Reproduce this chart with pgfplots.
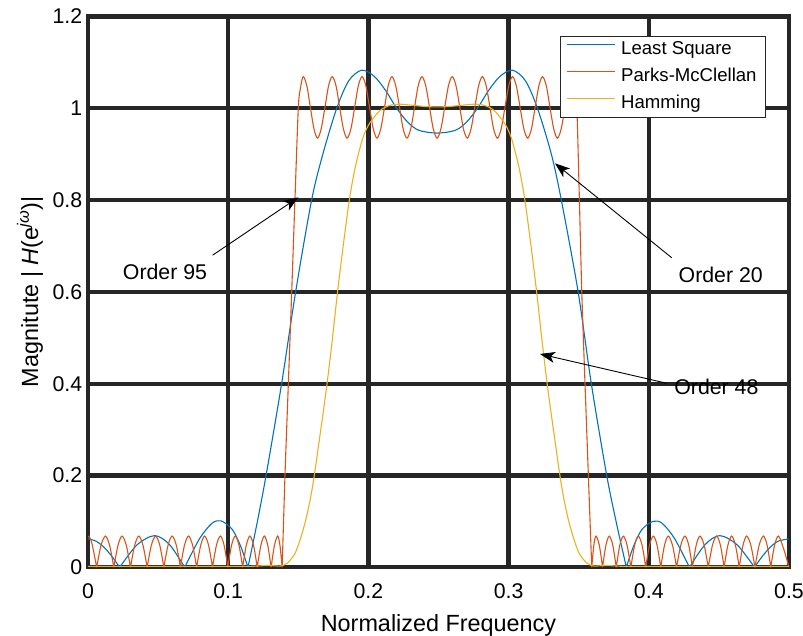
\documentclass[border=0pt]{standalone}
\usepackage{fontspec}
\setmainfont{Liberation Sans}
\usepackage{pgfplots}
\pgfplotsset{compat=1.18}
\usetikzlibrary{arrows.meta}
\definecolor{mblue}{RGB}{0,114,189}
\definecolor{morange}{RGB}{217,83,25}
\definecolor{myellow}{RGB}{237,177,32}
\definecolor{mgrid}{RGB}{38,38,38}
\begin{document}
\begin{tikzpicture}
\begin{axis}[
  name=ax, scale only axis, width=701pt, height=550.8pt,
  xmin=0, xmax=0.5, ymin=0, ymax=1.2,
  xtick={0,0.1,0.2,0.3,0.4,0.5},
  ytick={0,0.2,0.4,0.6,0.8,1,1.2},
  /pgf/number format/assume math mode=true,
  tick label style={font=\fontsize{21.3}{25}\selectfont},
  xticklabel style={anchor=base, yshift=-31.7pt},
  yticklabel style={xshift=-2.3pt},
  grid=major,
  major grid style={line width=4.3pt, draw=mgrid},
  axis line style={line width=4.3pt, draw=mgrid},
  tick style={draw=none},
  xlabel={Normalized Frequency},
  ylabel={Magnitute | \textit{H}(e\textsuperscript{\textit{jω}})|},
  label style={font=\fontsize{23.4}{28}\selectfont},
  xlabel style={at={(axis description cs:0.5,-0.1166)}, anchor=base},
  ylabel style={at={(axis description cs:-0.0713,0.5)}, anchor=base},
  unbounded coords=jump,
  legend style={at={(axis description cs:0.9672,0.9646)}, anchor=north east,
    draw=mgrid, line width=0.8pt, fill=white,
    font=\fontsize{18.6}{22}\selectfont,
    inner xsep=6pt, inner ysep=0pt, row sep=0pt, column sep=3pt,
    nodes={inner xsep=3pt, inner ysep=4.6pt, text height=13.6pt, text depth=4.2pt}},
  legend cell align=left,
  legend image code/.code={\draw[#1] (0pt,5.3pt) -- (48pt,5.3pt);},
]
% Least squares, order 20
\addplot[mblue, line width=1.1pt, smooth] coordinates {
(0,0.062) (0.0057,0.057) (0.0113,0.044) (0.017,0.024) (0.0226,0) (0.0226,nan)
(0.0226,0) (0.035,0.049) (0.0475,0.069) (0.058,0.05) (0.069,0) (0.069,nan)
(0.069,0) (0.0795,0.062) (0.0885,0.096) (0.0951,0.101) (0.103,0.082) (0.109,0.045) (0.1141,0) (0.1141,nan)
(0.1141,0) (0.1205,0.095) (0.127,0.2) (0.1381,0.4) (0.1481,0.6) (0.1595,0.8) (0.1675,0.9) (0.1774,1.0)
(0.186,1.06) (0.1952,1.083) (0.204,1.07) (0.212,1.04) (0.2202,1.0) (0.228,0.97) (0.236,0.952) (0.249,0.946)
(0.262,0.952) (0.270,0.97) (0.2778,1.0) (0.286,1.04) (0.294,1.07) (0.3028,1.083) (0.312,1.06) (0.3206,1.0)
(0.3305,0.9) (0.3376,0.8) (0.3496,0.6) (0.359,0.4) (0.370,0.2) (0.377,0.095) (0.3840,0) (0.3840,nan)
(0.3840,0) (0.389,0.045) (0.395,0.082) (0.4029,0.100) (0.4095,0.096) (0.4185,0.062) (0.429,0) (0.429,nan)
(0.429,0) (0.44,0.049) (0.4505,0.069) (0.463,0.049) (0.4754,0) (0.4754,nan)
(0.4754,0) (0.481,0.024) (0.4867,0.044) (0.4923,0.057) (0.5,0.062)
};
\addlegendentry{Least Square}
% Parks-McClellan, order 95
\addplot[morange, line width=1.1pt, smooth] coordinates {
(0,0.068) (0.0016,0.063) (0.0031,0.048) (0.0062,0) (0.0062,nan)
(0.0062,0) (0.0093,0.048) (0.0124,0.068) (0.0154,0.048) (0.0184,0) (0.0184,nan)
(0.0184,0) (0.0214,0.048) (0.0243,0.068) (0.0273,0.048) (0.0303,0) (0.0303,nan)
(0.0303,0) (0.0333,0.048) (0.0362,0.068) (0.0392,0.048) (0.0422,0) (0.0422,nan)
(0.0422,0) (0.0452,0.048) (0.0482,0.068) (0.0512,0.048) (0.0541,0) (0.0541,nan)
(0.0541,0) (0.0571,0.048) (0.0600,0.068) (0.0630,0.048) (0.0659,0) (0.0659,nan)
(0.0659,0) (0.0688,0.048) (0.0717,0.068) (0.0746,0.048) (0.0775,0) (0.0775,nan)
(0.0775,0) (0.0804,0.048) (0.0832,0.068) (0.0860,0.048) (0.0888,0) (0.0888,nan)
(0.0888,0) (0.0916,0.048) (0.0944,0.068) (0.0971,0.048) (0.0997,0) (0.0997,nan)
(0.0997,0) (0.1024,0.048) (0.1050,0.068) (0.1077,0.048) (0.1103,0) (0.1103,nan)
(0.1103,0) (0.1129,0.048) (0.1155,0.068) (0.1181,0.048) (0.1207,0) (0.1207,nan)
(0.1207,0) (0.1233,0.048) (0.1258,0.068) (0.1282,0.048) (0.1306,0) (0.1306,nan)
(0.1306,0) (0.1330,0.048) (0.1353,0.068) (0.1369,0.048) (0.1385,0) (0.1385,nan)
(0.1385,0) (0.1405,0.2) (0.1429,0.4) (0.1453,0.6) (0.1476,0.8) (0.1500,1.0) (0.1516,1.045)
(0.1535,1.069) (0.1561,1.049) (0.1586,1.002) (0.1612,0.955)
(0.1637,0.935) (0.1663,0.955) (0.1690,1.002) (0.1716,1.049)
(0.1742,1.069) (0.1769,1.049) (0.1795,1.002) (0.1822,0.955)
(0.1848,0.935) (0.1875,0.955) (0.1902,1.002) (0.1928,1.049)
(0.1955,1.069) (0.1982,1.049) (0.2008,1.002) (0.2035,0.955)
(0.2061,0.935) (0.2088,0.955) (0.2115,1.002) (0.2141,1.049)
(0.2168,1.069) (0.2195,1.049) (0.2222,1.002) (0.2248,0.955)
(0.2275,0.935) (0.2302,0.955) (0.2329,1.002) (0.2355,1.049)
(0.2382,1.069) (0.2409,1.049) (0.2436,1.002) (0.2463,0.955)
(0.2490,0.935) (0.2517,0.955) (0.2544,1.002) (0.2571,1.049)
(0.2598,1.069) (0.2625,1.049) (0.2652,1.002) (0.2678,0.955)
(0.2705,0.935) (0.2732,0.955) (0.2759,1.002) (0.2786,1.049)
(0.2813,1.069) (0.2840,1.049) (0.2867,1.002) (0.2893,0.955)
(0.2920,0.935) (0.2947,0.955) (0.2974,1.002) (0.3001,1.049)
(0.3028,1.069) (0.3055,1.049) (0.3082,1.002) (0.3109,0.955)
(0.3136,0.935) (0.3163,0.955) (0.3189,1.002) (0.3216,1.049)
(0.3242,1.069) (0.3269,1.049) (0.3295,1.002) (0.3322,0.955)
(0.3348,0.935) (0.3375,0.955) (0.3402,1.002) (0.3428,1.049)
(0.3455,1.069) (0.3473,1.045) (0.3487,1.0) (0.3505,0.8) (0.3522,0.6) (0.3545,0.4) (0.3569,0.2) (0.3593,0) (0.3593,nan)
(0.3593,0) (0.3608,0.048) (0.3623,0.068) (0.3647,0.048) (0.3670,0) (0.3670,nan)
(0.3670,0) (0.3694,0.048) (0.3718,0.068) (0.3743,0.048) (0.3768,0) (0.3768,nan)
(0.3768,0) (0.3793,0.048) (0.3818,0.068) (0.3845,0.048) (0.3872,0) (0.3872,nan)
(0.3872,0) (0.3899,0.048) (0.3925,0.068) (0.3952,0.048) (0.3978,0) (0.3978,nan)
(0.3978,0) (0.4005,0.048) (0.4032,0.068) (0.4059,0.048) (0.4085,0) (0.4085,nan)
(0.4085,0) (0.4112,0.048) (0.4139,0.068) (0.4169,0.048) (0.4198,0) (0.4198,nan)
(0.4198,0) (0.4228,0.048) (0.4258,0.068) (0.4285,0.048) (0.4311,0) (0.4311,nan)
(0.4311,0) (0.4338,0.048) (0.4365,0.068) (0.4395,0.048) (0.4424,0) (0.4424,nan)
(0.4424,0) (0.4454,0.048) (0.4484,0.068) (0.4511,0.048) (0.4537,0) (0.4537,nan)
(0.4537,0) (0.4564,0.048) (0.4591,0.068) (0.4618,0.048) (0.4645,0) (0.4645,nan)
(0.4645,0) (0.4672,0.048) (0.4698,0.068) (0.4728,0.048) (0.4757,0) (0.4757,nan)
(0.4757,0) (0.4787,0.048) (0.4817,0.068) (0.4844,0.048) (0.4870,0) (0.4870,nan)
(0.4870,0) (0.4897,0.048) (0.4925,0.068) (0.4962,0.040) (0.5000,0)
};
\addlegendentry{Parks-McClellan}
% Hamming window, order 48
\addplot[myellow, line width=1.1pt, smooth] coordinates {
(0,0.002) (0.03,0.002) (0.06,0.002) (0.09,0.002) (0.115,0.002) (0.128,0.004) (0.134,0.003) (0.138,0.003)
(0.1425,0.01) (0.1476,0.03) (0.1515,0.062) (0.1553,0.103) (0.1585,0.148) (0.1612,0.196) (0.1665,0.31) (0.1705,0.4)
(0.1744,0.5) (0.178,0.6) (0.182,0.7) (0.1864,0.8) (0.1905,0.87) (0.196,0.935) (0.201,0.968) (0.2083,0.995)
(0.215,1.006) (0.222,1.009) (0.23,1.007) (0.24,1.004) (0.249,1.003) (0.258,1.004) (0.268,1.007) (0.276,1.009)
(0.283,1.006) (0.2897,0.995) (0.297,0.968) (0.302,0.935) (0.3075,0.87) (0.3116,0.8) (0.316,0.7) (0.32,0.6)
(0.3236,0.5) (0.3275,0.4) (0.3315,0.31) (0.3368,0.196) (0.3395,0.148) (0.3427,0.103) (0.3465,0.062) (0.3504,0.03)
(0.3555,0.01) (0.360,0.003) (0.364,0.003) (0.37,0.004) (0.383,0.002) (0.41,0.002) (0.44,0.002) (0.47,0.002) (0.5,0.002)
};
\addlegendentry{Hamming}
% annotations
\draw[-{Stealth[length=15pt,width=11pt,inset=4pt]}, line width=0.9pt] (axis cs:0.0889,0.680) -- (axis cs:0.150,0.806);
\draw[-{Stealth[length=15pt,width=11pt,inset=4pt]}, line width=0.9pt] (axis cs:0.4163,0.6745) -- (axis cs:0.3331,0.880);
\draw[-{Stealth[length=15pt,width=11pt,inset=4pt]}, line width=0.9pt] (axis cs:0.4128,0.4009) -- (axis cs:0.3224,0.4647);
\node[anchor=base, inner sep=0pt, font=\fontsize{21.3}{25}\selectfont] at (axis cs:0.0549,0.626) {Order 95};
\node[anchor=base, inner sep=0pt, font=\fontsize{21.3}{25}\selectfont] at (axis cs:0.4513,0.6202) {Order 20};
\node[anchor=base, inner sep=0pt, font=\fontsize{21.3}{25}\selectfont] at (axis cs:0.4482,0.3754) {Order 48};
\end{axis}
\pgfresetboundingbox
\path (ax.south west) ++(-88pt,-68.7pt) rectangle ++(803pt,636pt);
\end{tikzpicture}
\end{document}
